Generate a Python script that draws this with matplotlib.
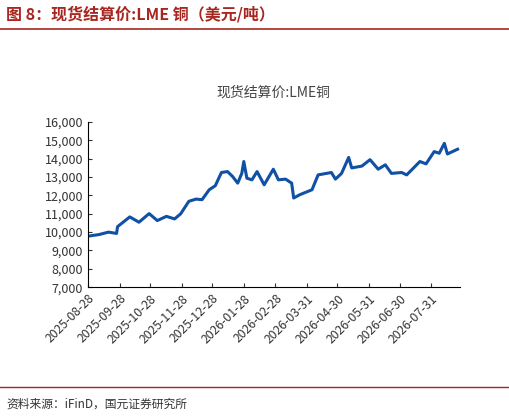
import matplotlib
matplotlib.use("Agg")
import matplotlib.pyplot as plt
import pandas as pd

plt.rcParams['font.family'] = ['Noto Sans CJK SC', 'DejaVu Sans']

dates = ["2025-08-28","2025-09-08","2025-09-17","2025-09-25","2025-09-26","2025-10-08","2025-10-17",
 "2025-10-27","2025-11-04","2025-11-13","2025-11-21","2025-11-27","2025-12-05","2025-12-12","2025-12-18",
 "2025-12-25","2025-12-31","2026-01-06","2026-01-12","2026-01-17","2026-01-22","2026-01-26","2026-01-28",
 "2026-01-31","2026-02-05","2026-02-10","2026-02-17","2026-02-26","2026-03-03","2026-03-10","2026-03-16",
 "2026-03-18","2026-03-24","2026-04-05","2026-04-11","2026-04-24","2026-04-28","2026-05-04","2026-05-11",
 "2026-05-14","2026-05-24","2026-06-01","2026-06-09","2026-06-16","2026-06-22","2026-07-02","2026-07-07",
 "2026-07-12","2026-07-20","2026-07-26","2026-08-03","2026-08-08","2026-08-13","2026-08-16","2026-08-26"]
values = [9780,9870,10000,9930,10300,10830,10540,11010,10630,10860,10720,11000,11680,11800,11770,
 12310,12530,13250,13300,13030,12670,13200,13850,12940,12850,13300,12580,13430,12850,12890,12670,
 11860,12040,12310,13120,13250,12890,13200,14070,13500,13600,13950,13430,13670,13200,13250,13120,
 13400,13850,13720,14390,14300,14840,14260,14520]
tick_labels = ["2025-08-28","2025-09-28","2025-10-28","2025-11-28","2025-12-28","2026-01-28",
 "2026-02-28","2026-03-31","2026-04-30","2026-05-31","2026-06-30","2026-07-31"]

fig = plt.figure(figsize=(5.09, 4.18), dpi=100)
fig.text(0.012, 0.965, "图 8：现货结算价:LME 铜（美元/吨）", color="#a8261f", fontsize=11.5,
         fontweight="bold", va="center")
fig.add_artist(plt.Line2D([0, 1], [0.93, 0.93], color="#a8261f", lw=1.2, transform=fig.transFigure))
fig.add_artist(plt.Line2D([0, 1], [0.075, 0.075], color="#a8261f", lw=1.0, transform=fig.transFigure))
fig.text(0.012, 0.032, "资料来源：iFinD，国元证券研究所", fontsize=8.5, color="#333333", va="center")

ax = fig.add_axes([0.173, 0.313, 0.73, 0.395])
d = pd.to_datetime(dates)
ax.plot(d, values, color="#1050a5", lw=2.2)
ax.set_ylim(7000, 16000)
ax.set_yticks(range(7000, 16001, 1000))
ax.set_yticklabels([f"{v:,}" for v in range(7000, 16001, 1000)], fontsize=9)
ax.set_xlim(pd.Timestamp("2025-08-28"), pd.Timestamp("2026-08-28"))
tk = pd.to_datetime(tick_labels)
ax.set_xticks(tk)
ax.set_xticklabels(tick_labels, rotation=45, ha="right", rotation_mode="anchor", fontsize=8.8)
ax.tick_params(direction="in", length=3, colors="#333333")
for s in ["top", "right"]:
    ax.spines[s].set_visible(False)
ax.set_title("现货结算价:LME铜", fontsize=10, color="#444444", pad=18)
fig.savefig("out.png", dpi=100)
